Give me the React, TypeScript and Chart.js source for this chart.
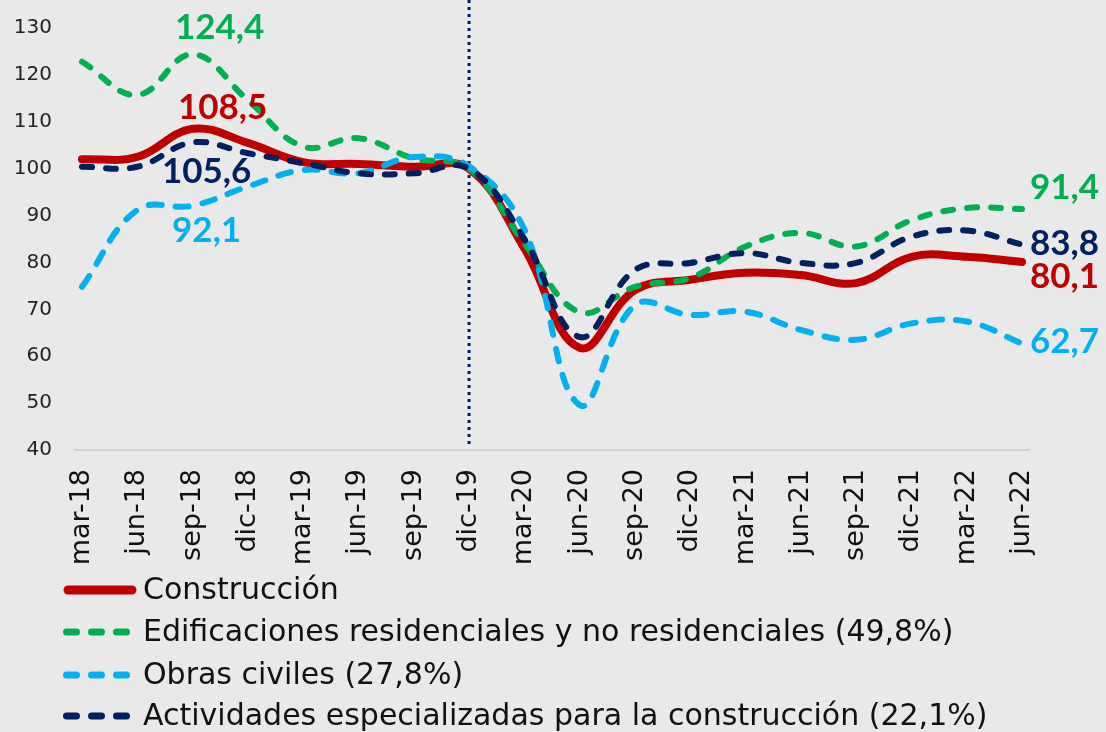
import React, { useEffect, useRef } from 'react';
import { Chart, registerables } from 'chart.js';

Chart.register(...registerables);

const categories = ['mar-18', 'jun-18', 'sep-18', 'dic-18', 'mar-19', 'jun-19', 'sep-19', 'dic-19', 'mar-20', 'jun-20', 'sep-20', 'dic-20', 'mar-21', 'jun-21', 'sep-21', 'dic-21', 'mar-22', 'jun-22'];
const construccion = [102.0, 102.5, 108.5, 105.5, 101.4, 101.0, 100.4, 100.0, 83.0, 61.8, 74.1, 76.3, 77.8, 77.3, 75.6, 81.2, 81.2, 80.1];
const edificaciones = [122.8, 115.7, 124.4, 114.6, 104.7, 106.5, 102.2, 100.0, 84.0, 69.4, 74.8, 76.7, 83.4, 86.3, 83.4, 89.0, 91.6, 91.4];
const obrasCiviles = [74.8, 91.2, 92.1, 96.2, 99.7, 99.0, 102.5, 100.5, 87.0, 49.6, 70.9, 68.8, 69.5, 65.6, 63.5, 67.0, 67.4, 62.7];
const actividades = [100.4, 100.4, 105.6, 103.3, 101.2, 99.0, 99.0, 100.0, 85.0, 64.1, 78.4, 79.9, 82.0, 79.9, 79.9, 85.5, 86.8, 83.8];
const seriesNames = [
  'Construcción',
  'Edificaciones residenciales y no residenciales (49,8%)',
  'Obras civiles (27,8%)',
  'Actividades especializadas para la construcción (22,1%)',
];
const yMin = 40;
const yMax = 130;
const yStep = 10;
const markerCategory = 'dic-19';

const COLORS = ['#C00000', '#00B050', '#00B0F0', '#002060'];

// value labels: dataset index, point index, offsets
const labelSpecs = [
  { ds: 1, idx: 2, dx: 27, dy: -27, align: 'center' },
  { ds: 0, idx: 2, dx: 30, dy: -21, align: 'center' },
  { ds: 3, idx: 2, dx: 14, dy: 29, align: 'center' },
  { ds: 2, idx: 2, dx: 14, dy: 25, align: 'center' },
  { ds: 1, idx: 17, dx: 8, dy: -21, align: 'left' },
  { ds: 3, idx: 17, dx: 8, dy: -1, align: 'left' },
  { ds: 0, idx: 17, dx: 8, dy: 15, align: 'left' },
  { ds: 2, idx: 17, dx: 8, dy: -2, align: 'left' },
];

const fmt = (v: number) => v.toFixed(1).replace('.', ',');

const extrasPlugin = {
  id: 'extras',
  beforeDatasetsDraw(chart: any) {
    const { ctx, chartArea, scales } = chart;
    const y = scales.y.getPixelForValue(yMin);
    ctx.save();
    ctx.strokeStyle = '#d2d2d2';
    ctx.lineWidth = 2;
    ctx.beginPath();
    ctx.moveTo(chartArea.left - 8, y);
    ctx.lineTo(chartArea.right + 8, y);
    ctx.stroke();
    // vertical dotted marker
    const x = scales.x.getPixelForValue(categories.indexOf(markerCategory));
    ctx.strokeStyle = '#002060';
    ctx.lineWidth = 3;
    ctx.setLineDash([3, 4]);
    ctx.beginPath();
    ctx.moveTo(x, 0);
    ctx.lineTo(x, chartArea.bottom - 5);
    ctx.stroke();
    ctx.restore();
  },
  afterDraw(chart: any) {
    const { ctx } = chart;
    ctx.save();
    // value labels
    ctx.font = 'bold 35px Lato';
    ctx.textBaseline = 'middle';
    labelSpecs.forEach((s) => {
      const meta = chart.getDatasetMeta(s.ds);
      const pt = meta.data[s.idx];
      const val = chart.data.datasets[s.ds].data[s.idx];
      ctx.fillStyle = COLORS[s.ds];
      ctx.textAlign = s.align;
      ctx.fillText(fmt(val), pt.x + s.dx, pt.y + s.dy);
    });
    // legend
    const rows = [590, 632, 675, 716];
    chart.data.datasets.forEach((d: any, i: number) => {
      const yy = rows[i];
      ctx.strokeStyle = d.borderColor;
      ctx.lineCap = 'round';
      if (i === 0) {
        ctx.setLineDash([]);
        ctx.lineWidth = 9;
      } else {
        ctx.setLineDash([10, 15]);
        ctx.lineWidth = 7;
      }
      ctx.beginPath();
      ctx.moveTo(i === 0 ? 68 : 66.5, yy);
      ctx.lineTo(i === 0 ? 132 : 130, yy);
      ctx.stroke();
      ctx.setLineDash([]);
      ctx.fillStyle = '#111111';
      ctx.font = '30px "DejaVu Sans"';
      ctx.textAlign = 'left';
      ctx.textBaseline = 'middle';
      ctx.fillText(d.label, 143, yy + 1);
    });
    ctx.restore();
  },
};

export default function App() {
  const ref = useRef<HTMLCanvasElement | null>(null);
  useEffect(() => {
    if (!ref.current) return;
    const mk = (i: number, data: number[], width: number, dash: number[], order: number) => ({
      label: seriesNames[i],
      data,
      borderColor: COLORS[i],
      backgroundColor: COLORS[i],
      borderWidth: width,
      borderDash: dash,
      borderCapStyle: 'round',
      borderJoinStyle: 'round',
      pointRadius: 0,
      tension: 0.4,
      fill: false,
      order,
    });
    const chart = new Chart(ref.current, {
      type: 'line',
      data: {
        labels: categories,
        datasets: [
          mk(0, construccion, 8, [], 4),
          mk(1, edificaciones, 6, [10, 14], 3),
          mk(2, obrasCiviles, 6, [13, 14], 2),
          mk(3, actividades, 6, [10, 14], 1),
        ],
      },
      options: {
        responsive: false,
        animation: false,
        devicePixelRatio: 1,
        layout: { padding: { left: 0, top: 28, right: 84, bottom: 0 } },
        plugins: { legend: { display: false }, tooltip: { enabled: false } },
        scales: {
          x: {
            grid: { display: false, drawTicks: false },
            border: { display: false },
            ticks: {
              autoSkip: false,
              minRotation: 90,
              maxRotation: 90,
              padding: 19,
              color: '#111111',
              font: { family: '"DejaVu Sans"', size: 27 },
            },
            afterFit: (s: any) => { s.height = 282; },
          },
          y: {
            min: yMin,
            max: yMax,
            grid: { display: false, drawTicks: false },
            border: { display: false },
            ticks: {
              stepSize: yStep,
              padding: 30,
              color: '#222222',
              font: { family: '"DejaVu Sans"', size: 20 },
            },
            afterFit: (s: any) => {
              s.width = 82;
              s.paddingTop = 0;
              s.paddingBottom = 0;
            },
          },
        },
      },
      plugins: [extrasPlugin],
    } as any);
    return () => chart.destroy();
  }, []);
  return (
    <div style={{ position: 'fixed', left: 0, top: 0, width: 1106, height: 732, background: '#e9e9e9' }}>
      <canvas ref={ref} width={1106} height={732} style={{ display: 'block' }} />
    </div>
  );
}
